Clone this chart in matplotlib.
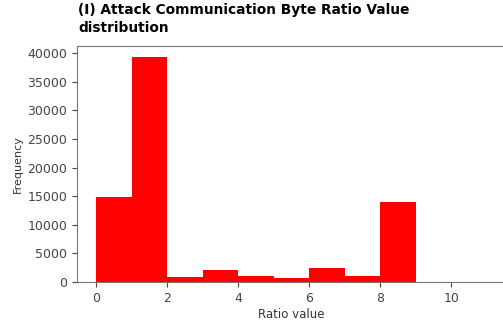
import numpy as np
import matplotlib
matplotlib.use("Agg")
import matplotlib.pyplot as plt

# Histogram bins (width 1) and the count in each bin
bin_edges = [0, 1, 2, 3, 4, 5, 6, 7, 8, 9, 10, 11]
counts = [14900, 39250, 880, 2150, 990, 640, 2500, 990, 14030, 20, 10]
x_ticks = [0, 2, 4, 6, 8, 10]
y_ticks = [0, 5000, 10000, 15000, 20000, 25000, 30000, 35000, 40000]

fig = plt.figure(figsize=(5.03, 3.24), dpi=100)
ax = fig.add_axes([0.153, 0.1296, 0.854, 0.728])

ax.hist(bin_edges[:-1], bins=bin_edges, weights=counts, color="#ff0000")

ax.set_xticks(x_ticks)
ax.set_yticks(y_ticks)
ax.tick_params(colors="#444444", labelsize=9, length=3.5)
for s in ax.spines.values():
    s.set_color("#777777")
ax.set_xlabel("Ratio value", fontsize=8.5, color="#333333", labelpad=2)
ax.set_ylabel("Frequency", fontsize=8, color="#333333", labelpad=3)

fig.text(0.155, 0.99, "(I) Attack Communication Byte Ratio Value\ndistribution",
         ha="left", va="top", fontsize=9.9, fontweight="bold",
         family="DejaVu Sans", linespacing=1.32)

fig.savefig("out.png", dpi=100)
